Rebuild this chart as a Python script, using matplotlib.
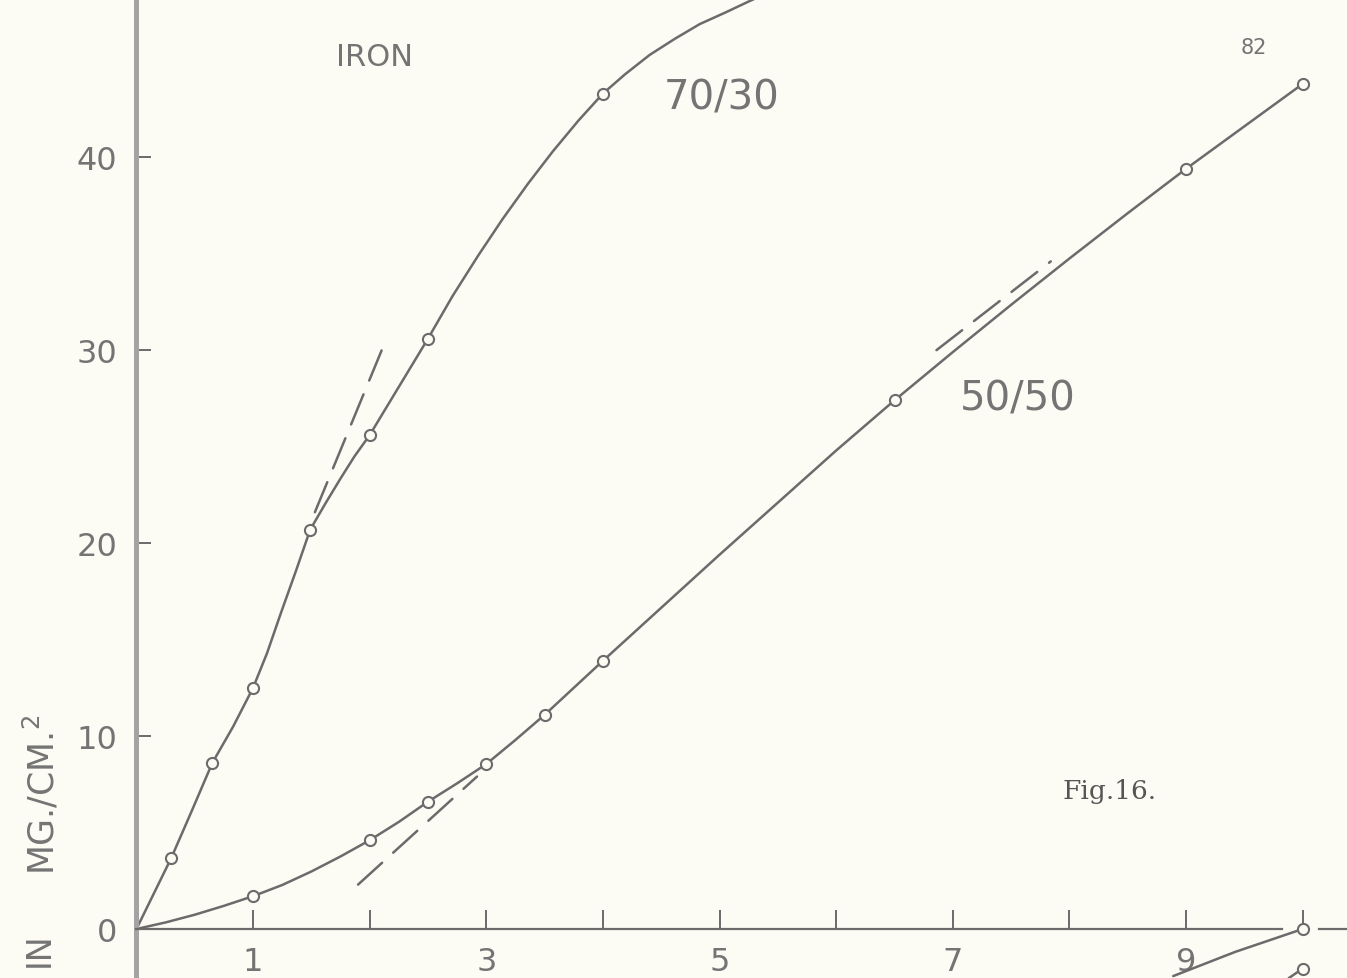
import numpy as np
import matplotlib
matplotlib.use("Agg")
import matplotlib.pyplot as plt

# iron, weight loss curves for the two alloys
# marked readings
pts_7030_x = [0.30, 0.65, 1.0, 1.49, 2.0, 2.5, 4.0]
pts_7030_y = [3.7, 8.6, 12.5, 20.7, 25.6, 30.6, 43.3]
pts_5050_x = [1.0, 2.0, 2.5, 3.0, 3.5, 4.0, 6.5, 9.0, 10.0]
pts_5050_y = [1.7, 4.6, 6.6, 8.55, 11.1, 13.9, 27.4, 39.4, 43.8]

# hand drawn curves through the readings
curve_7030_x = [0, 0.30, 0.48, 0.65, 0.83, 1.0, 1.12, 1.24, 1.37, 1.49, 1.62,
                1.75, 1.87, 2.0, 2.25, 2.5, 2.71, 2.93, 3.14, 3.36, 3.57, 3.79,
                4.0, 4.19, 4.40, 4.62, 4.83, 5.05, 5.26, 5.48]
curve_7030_y = [0, 3.7, 6.2, 8.6, 10.5, 12.5, 14.3, 16.4, 18.6, 20.7, 22.05,
                23.35, 24.5, 25.6, 28.1, 30.6, 32.8, 34.9, 36.8, 38.65, 40.3, 41.9,
                43.3, 44.3, 45.3, 46.15, 46.9, 47.5, 48.1, 48.7]
curve_5050_x = [0, 0.25, 0.5, 0.75, 1.0, 1.25, 1.5, 1.75, 2.0, 2.25, 2.5, 2.75,
                3.0, 3.25, 3.5, 3.75, 4.0, 5.0, 6.0, 6.5, 7.0, 7.5, 8.0, 8.5,
                9.0, 9.5, 10.0]
curve_5050_y = [0, 0.34, 0.74, 1.2, 1.7, 2.28, 2.98, 3.76, 4.6, 5.55, 6.6, 7.55,
                8.55, 9.8, 11.1, 12.5, 13.9, 19.4, 24.8, 27.4, 29.9, 32.35, 34.75, 37.1,
                39.4, 41.6, 43.8]

# pieces of the next curves running in from below the axis
low_a_x = [8.89, 9.42, 10.0]
low_a_y = [-2.44, -1.19, 0.0]
low_b_x = [9.88, 10.0]
low_b_y = [-2.55, -2.05]

# dashed tangents
tan_a_x = [1.53, 2.11]
tan_a_y = [21.6, 30.1]
tan_b_x = [1.90, 2.92]
tan_b_y = [2.3, 7.9]
tan_c_x = [6.86, 7.84]
tan_c_y = [30.0, 34.6]

x_ticks = [1, 2, 3, 4, 5, 6, 7, 8, 9, 10]
x_tick_labels = ["1", "", "3", "", "5", "", "7", "", "9", ""]
y_ticks = [0, 10, 20, 30, 40]
y_tick_labels = ["0", "10", "20", "30", "40"]

paper = "#fcfbf4"
ink = "#6b6b6b"
txt = "#747474"


def draw():
    fig = plt.figure(figsize=(13.47, 9.79), dpi=100)
    fig.patch.set_facecolor(paper)
    ax = fig.add_axes([0, 0, 1, 1])
    ax.set_facecolor(paper)
    ax.set_xlim(-1.17, 10.38)
    ax.set_ylim(-2.54, 48.2)

    for s in ["top", "right"]:
        ax.spines[s].set_visible(False)
    ax.spines["left"].set_position(("data", 0))
    ax.spines["left"].set_color("#a3a3a3")
    ax.spines["left"].set_linewidth(3.6)
    ax.spines["bottom"].set_position(("data", 0))
    ax.spines["bottom"].set_color(ink)
    ax.spines["bottom"].set_linewidth(1.6)
    ax.spines["bottom"].set_bounds(0, 9.82)
    # axis picks up again after the point at 10
    ax.plot([10.14, 10.38], [0, 0], color=ink, lw=1.6, clip_on=False)

    ax.set_xticks(x_ticks)
    ax.set_xticklabels(x_tick_labels)
    ax.set_yticks(y_ticks)
    ax.set_yticklabels(y_tick_labels)
    ax.tick_params(axis="x", direction="in", length=14, width=1.4, color=ink,
                   pad=12, labelsize=23, labelcolor=txt)
    ax.tick_params(axis="y", direction="in", length=11, width=1.4, color=ink,
                   pad=14, labelsize=23, labelcolor=txt)

    line_kw = dict(color=ink, lw=1.8, solid_capstyle="round", solid_joinstyle="round")
    ax.plot(curve_7030_x, curve_7030_y, **line_kw)
    ax.plot(curve_5050_x, curve_5050_y, **line_kw)
    ax.plot(low_a_x, low_a_y, **line_kw)
    ax.plot(low_b_x, low_b_y, **line_kw)

    dash_kw = dict(color=ink, lw=1.8, dashes=(13, 6), dash_capstyle="round")
    ax.plot(tan_a_x, tan_a_y, **dash_kw)
    ax.plot(tan_b_x, tan_b_y, **dash_kw)
    ax.plot(tan_c_x, tan_c_y, **dash_kw)

    mk = dict(ls="none", marker="o", ms=8, mfc=paper, mec=ink, mew=1.5, zorder=5)
    ax.plot(pts_7030_x, pts_7030_y, **mk)
    ax.plot(pts_5050_x, pts_5050_y, **mk)
    ax.plot([low_a_x[-1], low_b_x[-1]], [low_a_y[-1], low_b_y[-1]], clip_on=False, **mk)

    ax.text(2.04, 45.2, "IRON", fontsize=22, color=txt, ha="center", va="center")
    ax.text(5.02, 43.1, "70/30", fontsize=29, color=txt, ha="center", va="center")
    ax.text(7.56, 27.5, "50/50", fontsize=29, color=txt, ha="center", va="center")
    ax.text(9.58, 45.7, "82", fontsize=15, color=txt, ha="center", va="center")
    ax.text(8.34, 7.2, "Fig.16.", fontsize=19, color="#555555", ha="center",
            va="center", family="DejaVu Serif")

    # y label, only the tail end of it fits on the sheet
    ax.text(-0.83, -1.0, "IN", fontsize=24, color=txt, rotation=90,
            ha="center", va="center")
    ax.text(-0.81, 7.0, "MG./CM.$^2$", fontsize=25, color=txt, rotation=90,
            ha="center", va="center")

    plt.savefig("out.png", dpi=100, facecolor=paper)
    plt.clf()


if __name__ == "__main__":
    draw()
